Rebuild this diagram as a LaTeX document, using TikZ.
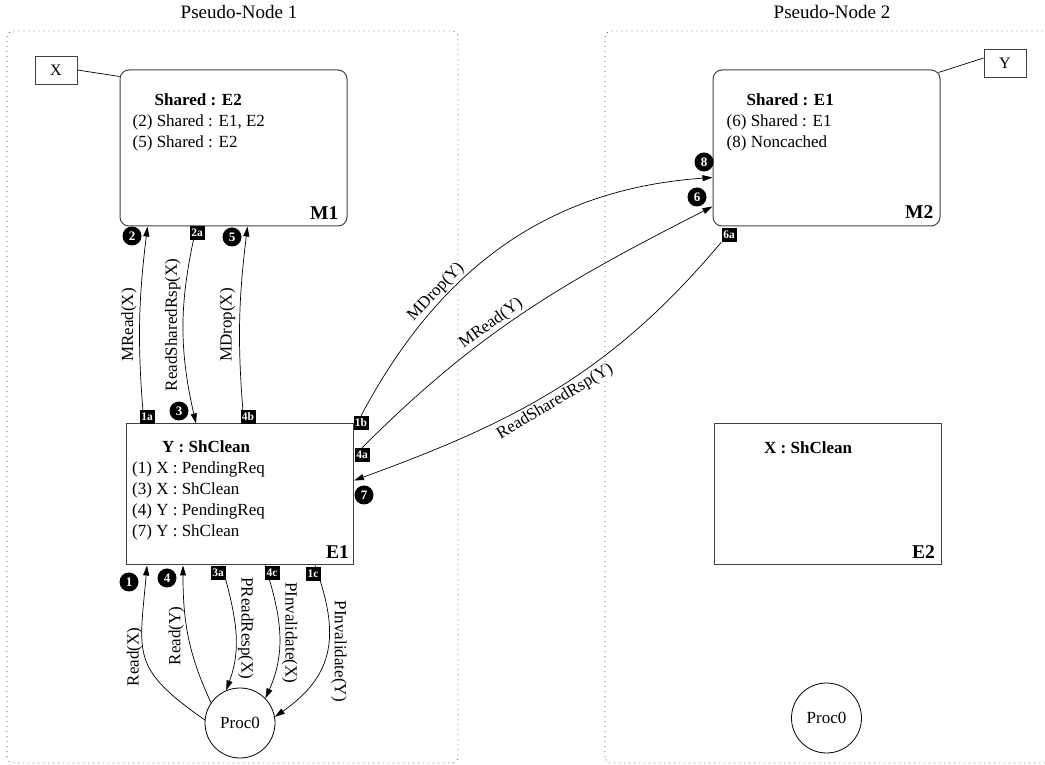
\documentclass[tikz,border=0pt]{standalone}
\usepackage{fontspec}
\setmainfont{Liberation Serif}
\usetikzlibrary{arrows.meta,positioning,calc}
\newcommand{\Txt}{\fontsize{17}{21}\selectfont}
\newcommand{\Ttl}{\fontsize{19}{23}\selectfont}
\newcommand{\Tag}{\fontsize{19.5}{23}\selectfont\bfseries}
\newcommand{\Num}{\fontsize{13}{15}\selectfont\bfseries}
\newcommand{\Sq}{\fontsize{11.5}{13}\selectfont\bfseries}
\tikzset{
  frame/.style={draw=black!70, line width=0.8pt, dash pattern=on 0.8pt off 4.2pt, rounded corners=6pt},
  membox/.style={draw=black!75, line width=1pt, rounded corners=9pt, minimum width=227pt, minimum height=156pt, inner sep=0},
  cachebox/.style={draw=black!75, line width=1pt, minimum width=227pt, minimum height=141pt, inner sep=0},
  addr/.style={draw=black!75, line width=0.8pt, minimum width=42pt, minimum height=28pt, inner sep=0, font=\fontsize{16}{18}\selectfont},
  proc/.style={draw, circle, line width=0.8pt, minimum size=70pt, inner sep=0, font=\Txt},
  boxtxt/.style={anchor=north west, align=left, inner sep=0, font=\Txt},
  tag/.style={anchor=south east, inner sep=0, font=\Tag},
  msg/.style={-{Triangle[length=10pt,width=6pt]}, line width=0.7pt},
  lbl/.style={font=\Txt, inner sep=2.5pt},
  cnum/.style={circle, fill=black, text=white, inner sep=0, minimum size=19pt, font=\Num},
  snum/.style={fill=black, text=white, inner sep=0, minimum width=15pt, minimum height=14pt, font=\Sq},
}
\begin{document}
\begin{tikzpicture}[x=1pt, y=1pt]
  \useasboundingbox (0,0) rectangle (1045,764);
  \clip (0,0) rectangle (1045,764);

  % pseudo nodes
  \draw[frame] (7,1) rectangle (458,733);
  \draw[frame] (605,1) rectangle (1070,733);
  \node[font=\Ttl, anchor=base] (pn1) at (239,745) {Pseudo-Node 1};
  \node[font=\Ttl, anchor=base] (pn2) at (832,745) {Pseudo-Node 2};

  % memories and caches
  \node[membox] (M1) at (233.5,616) {};
  \node[membox] (M2) at (826.5,616) {};
  \node[cachebox] (E1) at (240,269.5) {};
  \node[cachebox] (E2) at (828,269.5) {};
  \node[proc] (P1) at (240,41) {Proc0};
  \node[proc] (P2) at (826.5,46) {Proc0};

  \node[boxtxt] (m1txt) at ([xshift=13pt,yshift=-24pt]M1.north west)
    {\hspace*{22pt}\textbf{Shared : E2}\\(2) Shared : E1, E2\\(5) Shared : E2};
  \node[boxtxt] (m2txt) at ([xshift=14pt,yshift=-24pt]M2.north west)
    {\hspace*{20pt}\textbf{Shared : E1}\\(6) Shared : E1\\(8) Noncached};
  \node[boxtxt] (e1txt) at ([xshift=6pt,yshift=-17pt]E1.north west)
    {\hspace*{30pt}\textbf{Y : ShClean}\\(1) X : PendingReq\\(3) X : ShClean\\(4) Y : PendingReq\\(7) Y : ShClean};
  \node[boxtxt] (e2txt) at ([xshift=50pt,yshift=-18pt]E2.north west) {\textbf{X : ShClean}};

  \node[tag] (m1tag) at ([xshift=-9pt,yshift=7pt]M1.south east) {M1};
  \node[tag] (m2tag) at ([xshift=-7pt,yshift=8pt]M2.south east) {M2};
  \node[tag] (e1tag) at ([xshift=-5pt,yshift=7pt]E1.south east) {E1};
  \node[tag] (e2tag) at ([xshift=-7pt,yshift=7pt]E2.south east) {E2};

  % home addresses
  \node[addr] (X) at (56,694) {X};
  \node[addr] (Y) at (1005,701) {Y};
  \draw[line width=0.7pt] (X.east) -- ([yshift=-7pt]M1.north west);
  \draw[line width=0.7pt] ([xshift=-2pt,yshift=-3pt]M2.north east) -- ([yshift=5pt]Y.west);

  % E1 <-> M1
  \draw[msg] ([xshift=18pt]E1.north west) to[bend left=6]
    node[lbl, midway, rotate=90, anchor=south] {MRead(X)} ([xshift=28pt]M1.south west);
  \draw[msg] ([xshift=77pt]M1.south west) to[bend right=13]
    node[lbl, midway, rotate=90, anchor=south] {ReadSharedRsp(X)} ([xshift=70pt]E1.north west);
  \draw[msg] ([xshift=118pt]E1.north west) to[bend left=6]
    node[lbl, midway, rotate=90, anchor=south, inner sep=4pt] {MDrop(X)} ([xshift=128pt]M1.south west);

  % Proc0 <-> E1
  \draw[msg] (P1.175) to[out=145, in=-95, looseness=1.4]
    node[lbl, pos=0.5, rotate=90, anchor=south] {Read(X)} ([xshift=21pt]E1.south west);
  \draw[msg] (P1.145) to[out=115, in=-90]
    node[lbl, pos=0.5, rotate=90, anchor=south, inner sep=4pt] {Read(Y)} ([xshift=57pt]E1.south west);
  \draw[msg] ([xshift=96pt]E1.south west) to[out=-75, in=70]
    node[lbl, pos=0.5, rotate=-90, anchor=south] {PReadResp(X)} (P1.113);
  \draw[msg] ([xshift=139pt]E1.south west) to[out=-72, in=66]
    node[lbl, pos=0.5, rotate=-90, anchor=south] {PInvalidate(X)} (P1.44);
  \draw[msg] ([xshift=189pt]E1.south west) to[out=-70, in=35, looseness=1.2]
    node[lbl, pos=0.5, rotate=-90, anchor=south, inner sep=4pt] {PInvalidate(Y)} (P1.10);

  % step markers
  \foreach \n/\x/\y in {1/129/182, 2/132/528, 3/179/353, 4/167/186, 5/232/527,
                         6/697/567, 7/364/269, 8/704/602}
    \node[cnum] (c\n) at (\x,\y) {\n};
  \foreach \n/\x/\y in {1a/147/347, 1b/361/341, 1c/313/190, 2a/197/531, 3a/218/191,
                         4a/362/309, 4b/248/347, 4c/272/191, 6a/729/529}
    \node[snum] (s\n) at (\x,\y) {\n};

  % E1 <-> M2
  \draw[msg] (s1b.north) to[out=62, in=184]
    node[lbl, pos=0.31, sloped, anchor=south, inner sep=1.5pt] {MDrop(Y)} ([yshift=49pt]M2.south west);
  \draw[msg] (s4a.north) to[out=45, in=207]
    node[lbl, pos=0.41, sloped, anchor=south, inner sep=1.5pt] {MRead(Y)} ([yshift=20pt]M2.south west);
  \draw[msg] (s6a.south west) to[out=230, in=20]
    node[lbl, pos=0.52, sloped, anchor=north] {ReadSharedRsp(Y)} ([yshift=-57pt]E1.north east);
\end{tikzpicture}
\end{document}
